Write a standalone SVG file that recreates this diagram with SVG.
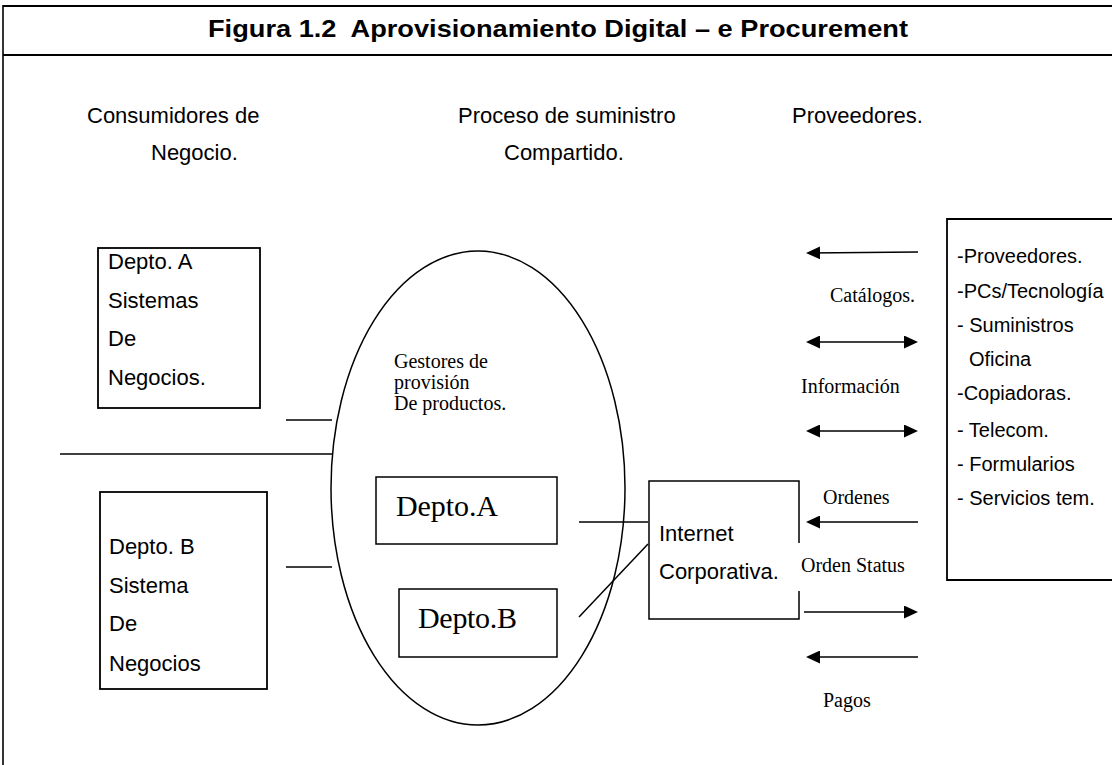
<svg xmlns="http://www.w3.org/2000/svg" width="1112" height="765" viewBox="0 0 1112 765">
<style>
.frame{stroke:#000;fill:none}
.box{fill:#fff;stroke:#000;stroke-width:1.8}
.ibox{fill:none;stroke:#000;stroke-width:1.5}
.ln{stroke:#000;stroke-width:1.5;fill:none}
.sans{font-family:"Liberation Sans",Arial,sans-serif;fill:#000}
.serif{font-family:"Liberation Serif","Times New Roman",serif;fill:#000}
.title{font-family:"Liberation Sans",Arial,sans-serif;font-weight:bold;font-size:24px;fill:#000;white-space:pre}
.hdr{font-size:22px}
.bt{font-size:22px}
.rt{font-size:20px}
.lbl{font-size:20px}
.big{font-size:30px}
</style>
<defs>
<marker id="ah" viewBox="0 0 14 13" refX="11" refY="6.5" markerWidth="14" markerHeight="13" markerUnits="userSpaceOnUse" orient="auto-start-reverse">
<path d="M0,0 L14,6.5 L0,13 Z" fill="#000"/>
</marker>
</defs>
<rect width="1112" height="765" fill="#fff"/>
<g id="frame">
<line class="frame" x1="3" y1="6" x2="1112" y2="6" stroke-width="2.2"/>
<line class="frame" x1="3" y1="55" x2="1112" y2="55" stroke-width="2.2"/>
<line class="frame" x1="3" y1="5" x2="3" y2="765" stroke-width="1.6"/>
<text class="title" x="208" y="37" textLength="700" lengthAdjust="spacingAndGlyphs" xml:space="preserve">Figura 1.2  Aprovisionamiento Digital – e Procurement</text>
</g>
<g id="headers" class="sans hdr">
<text x="87" y="123">Consumidores de</text>
<text x="151" y="160">Negocio.</text>
<text x="458" y="123">Proceso de suministro</text>
<text x="504" y="160">Compartido.</text>
<text x="792" y="123">Proveedores.</text>
</g>
<g id="deptoA-sistemas">
<rect class="box" x="98" y="248" width="162" height="160"/>
<g class="sans bt">
<text x="108" y="269">Depto. A</text>
<text x="108" y="308">Sistemas</text>
<text x="108" y="346">De</text>
<text x="108" y="385">Negocios.</text>
</g>
</g>
<g id="deptoB-sistema">
<rect class="box" x="100" y="492" width="167" height="197"/>
<g class="sans bt">
<text x="109" y="554">Depto. B</text>
<text x="109" y="593">Sistema</text>
<text x="109" y="631">De</text>
<text x="109" y="671">Negocios</text>
</g>
</g>
<g id="gestores">
<ellipse class="ln" cx="478" cy="488" rx="147" ry="237"/>
<g class="serif lbl">
<text x="394" y="368">Gestores de</text>
<text x="394" y="389">provisión</text>
<text x="394" y="410">De productos.</text>
</g>
</g>
<g id="deptoA">
<rect class="ibox" x="376" y="477" width="181" height="67"/>
<text class="serif big" x="396" y="516" textLength="102">Depto.A</text>
</g>
<g id="deptoB">
<rect class="ibox" x="399" y="589" width="158" height="68"/>
<text class="serif big" x="418" y="628" textLength="99">Depto.B</text>
</g>
<g id="internet">
<path class="ibox" d="M799,543 L799,481 L649,481 L649,619 L799,619 L799,591"/>
<text class="sans bt" x="659" y="541">Internet</text>
<text class="sans bt" x="659" y="579">Corporativa.</text>
</g>
<g id="proveedores">
<path class="box" d="M1114,219 L947,219 L947,580 L1114,580"/>
<g class="sans rt">
<text x="957" y="263">-Proveedores.</text>
<text x="957" y="298">-PCs/Tecnología</text>
<text x="957" y="332">- Suministros</text>
<text x="969" y="366">Oficina</text>
<text x="957" y="400">-Copiadoras.</text>
<text x="957" y="437">- Telecom.</text>
<text x="957" y="471">- Formularios</text>
<text x="957" y="505">- Servicios tem.</text>
</g>
</g>
<g id="connectors">
<line class="ln" x1="286" y1="420" x2="332" y2="420"/>
<line class="ln" x1="60" y1="454" x2="333" y2="454"/>
<line class="ln" x1="286" y1="567" x2="332" y2="567"/>
<line class="ln" x1="579" y1="522" x2="648" y2="522"/>
<line class="ln" x1="579" y1="617" x2="648" y2="544"/>
<line class="ln" x1="918" y1="252" x2="809" y2="253" marker-end="url(#ah)"/>
<line class="ln" x1="809" y1="342" x2="915" y2="342" marker-start="url(#ah)" marker-end="url(#ah)"/>
<line class="ln" x1="809" y1="431" x2="915" y2="431" marker-start="url(#ah)" marker-end="url(#ah)"/>
<line class="ln" x1="918" y1="522" x2="809" y2="522" marker-end="url(#ah)"/>
<line class="ln" x1="804" y1="612" x2="915" y2="612" marker-end="url(#ah)"/>
<line class="ln" x1="918" y1="657" x2="809" y2="657" marker-end="url(#ah)"/>
</g>
<g id="labels" class="serif lbl">
<text x="830" y="302">Catálogos.</text>
<text x="801" y="393">Información</text>
<text x="823" y="504">Ordenes</text>
<text x="801" y="572">Orden Status</text>
<text x="823" y="707">Pagos</text>
</g>
</svg>
